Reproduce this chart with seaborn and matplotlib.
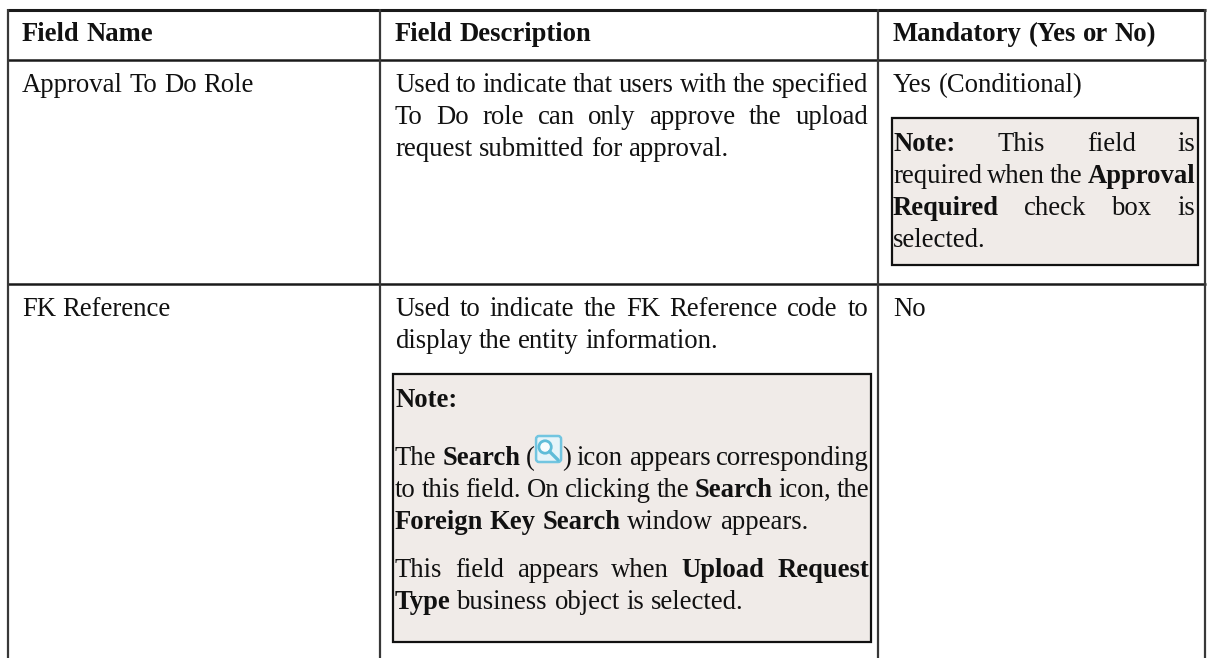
import matplotlib
matplotlib.use("Agg")
import matplotlib.pyplot as plt
import seaborn as sns
from matplotlib.patches import Rectangle, FancyBboxPatch, Circle

# table text, *...* marks bold words, @ is the search icon
header_names = ["Field Name", "Field Description", "Mandatory (Yes or No)"]
field_names = ["Approval To Do Role", "FK Reference"]
mandatory_values = ["Yes (Conditional)", "No"]
row1_description = [
    "Used to indicate that users with the specified",
    "To Do role can only approve the upload",
    "request submitted for approval.",
]
row1_note = [
    "*Note:* This field is",
    "required when the *Approval*",
    "*Required* check box is",
    "selected.",
]
row2_description = [
    "Used to indicate the FK Reference code to",
    "display the entity information.",
]
row2_note = [
    "*Note:*",
    "The *Search* (@) icon appears corresponding",
    "to this field. On clicking the *Search* icon, the",
    "*Foreign Key Search* window appears.",
    "This field appears when *Upload Request*",
    "*Type* business object is selected.",
]

BORDER_H = "#1a1a1a"
BORDER_V = "#383838"
NOTE_BG = "#f0ebe8"
TEXT = "#111111"
FONT_PX = 26.6
FONT_PT = FONT_PX * 0.72
SPACE = FONT_PX * 0.25
ICON_W = 27

sns.set_theme(style="white")
plt.rcParams["font.family"] = ["Liberation Serif", "DejaVu Serif"]
plt.rcParams["text.hinting"] = "default"

fig = plt.figure(figsize=(12.07, 6.58), dpi=100)
ax = fig.add_axes([0, 0, 1, 1])
ax.set_xlim(0, 1207)
ax.set_ylim(658, 0)
ax.axis("off")
sns.despine(ax=ax, left=True, bottom=True)
renderer = fig.canvas.get_renderer()


def word_width(word, bold):
    t = ax.text(0, 0, word, fontsize=FONT_PT, fontweight="bold" if bold else "normal")
    w = t.get_window_extent(renderer).width
    t.remove()
    return w


def parse(line):
    # splits a marked up line into (word, bold) pairs
    words = []
    for n, part in enumerate(line.split("*")):
        for w in part.split():
            words.append((w, n % 2 == 1))
    return words


def draw_search_icon(x, baseline):
    top = baseline - 30
    ax.add_patch(FancyBboxPatch((x + 2, top + 2), 23, 24, boxstyle="round,pad=1,rounding_size=3",
                                fc="#e6f4f9", ec="#72c5e0", lw=1.8, zorder=3))
    ax.add_patch(Circle((x + 10, top + 12), 6.2, fc="#f8fcfd", ec="#5fbcd8", lw=2, zorder=4))
    ax.plot([x + 14.5, x + 23], [top + 16.5, top + 25], color="#5fbcd8", lw=2.4, zorder=4)


def draw_piece(x, baseline, word, bold):
    # a word can hold the icon, like "(@)"
    if "@" in word:
        before, after = word.split("@")
        ax.text(x, baseline, before, fontsize=FONT_PT, color=TEXT, va="baseline")
        xi = x + word_width(before, False)
        draw_search_icon(xi, baseline)
        ax.text(xi + ICON_W, baseline, after, fontsize=FONT_PT, color=TEXT, va="baseline")
    else:
        ax.text(x, baseline, word, fontsize=FONT_PT, color=TEXT, va="baseline",
                fontweight="bold" if bold else "normal")


def piece_width(word, bold):
    if "@" in word:
        before, after = word.split("@")
        return word_width(before, False) + ICON_W + word_width(after, False)
    return word_width(word, bold)


def draw_line(line, x0, x1, baseline, justify=False):
    words = parse(line)
    widths = [piece_width(w, b) for w, b in words]
    gap = SPACE
    if justify and len(words) > 1:
        gap = (x1 - x0 - sum(widths)) / (len(words) - 1)
    x = x0
    for (w, b), wd in zip(words, widths):
        draw_piece(x, baseline + 1, w, b)
        x += wd + gap


# grid
for y, lw in [(9.5, 2.2), (60, 1.8), (284, 1.8)]:
    ax.plot([6.5, 1205.8], [y, y], color=BORDER_H, lw=lw, solid_capstyle="butt")
for x, lw in [(7.5, 1.6), (380, 1.6), (878, 1.6), (1205, 1.6)]:
    ax.plot([x, x], [9, 658], color=BORDER_V, lw=lw, solid_capstyle="butt")

# note boxes
ax.add_patch(Rectangle((891.5, 118), 306.5, 147, fc=NOTE_BG, ec="#111111", lw=1.6))
ax.add_patch(Rectangle((393, 374), 478, 268, fc=NOTE_BG, ec="#111111", lw=1.6))

# header
for x, name in zip([22, 395, 893], header_names):
    draw_line("*" + name + "*", x, x, 40)

# first and second column, third column
for baseline, name, value in zip([91, 315], field_names, mandatory_values):
    draw_line(name, 22, 370, baseline)
    draw_line(value, 893, 1195, baseline)

for line, baseline, just in zip(row1_description, [91, 123, 155], [True, True, False]):
    draw_line(line, 395, 868, baseline, just)
for line, baseline, just in zip(row1_note, [150, 182, 214, 246], [True, True, True, False]):
    draw_line(line, 893, 1195.5, baseline, just)
for line, baseline, just in zip(row2_description, [315, 347], [True, False]):
    draw_line(line, 395, 868, baseline, just)
for line, baseline, just in zip(row2_note, [406, 464, 496, 528, 576, 608],
                                [False, True, True, False, True, False]):
    draw_line(line, 395, 869, baseline, just)

fig.savefig("out.png", dpi=100, facecolor="white")
